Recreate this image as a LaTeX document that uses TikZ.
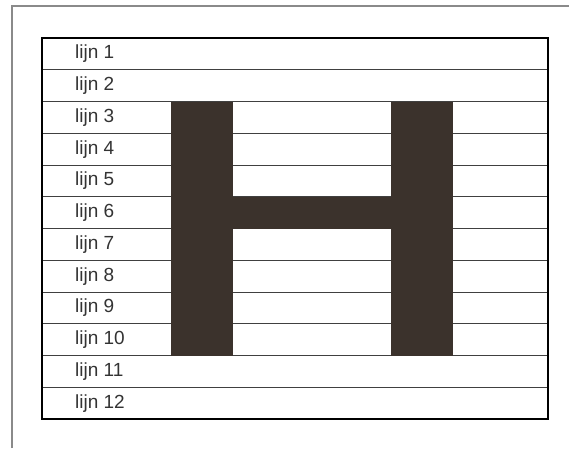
\documentclass[tikz,border=0pt]{standalone}
\usepackage{fontspec}
\setmainfont{Liberation Sans}
\usepackage{xcolor}
\usepackage{tikz}
\usetikzlibrary{calc, positioning}

\definecolor{letterkleur}{HTML}{3B322C}
\definecolor{kaderkleur}{HTML}{8A8A8A}

\begin{document}
\begin{tikzpicture}[x=1pt, y=-1pt, font=\fontsize{19}{21}\selectfont]
    \useasboundingbox (0,0) rectangle (569,448);
    % Buitenkader (alleen boven- en linkerrand zichtbaar)
    \draw[kaderkleur, line width=1.5pt] (12,448) -- (12,6) -- (569,6);
    % Lijnen van het raster
    \foreach \i in {1,...,11}
        \draw[black!75, line width=0.9pt] (42,{38+\i*31.75}) -- (548,{38+\i*31.75});
    % De letter H
    \fill[letterkleur] (171,101.5) rectangle (233,355.5);
    \fill[letterkleur] (391,101.5) rectangle (453,355.5);
    \fill[letterkleur] (233,196.75) rectangle (391,228.5);
    % Kader van het raster
    \draw[black, line width=1.2pt] (42,38) rectangle (548,419);
    % Labels
    \foreach \i in {1,...,12}
        \node[anchor=west, inner sep=0pt, text=black!80] (lijn\i) at (75,{38+(\i-0.5)*31.75}) {lijn \i};
\end{tikzpicture}
\end{document}
